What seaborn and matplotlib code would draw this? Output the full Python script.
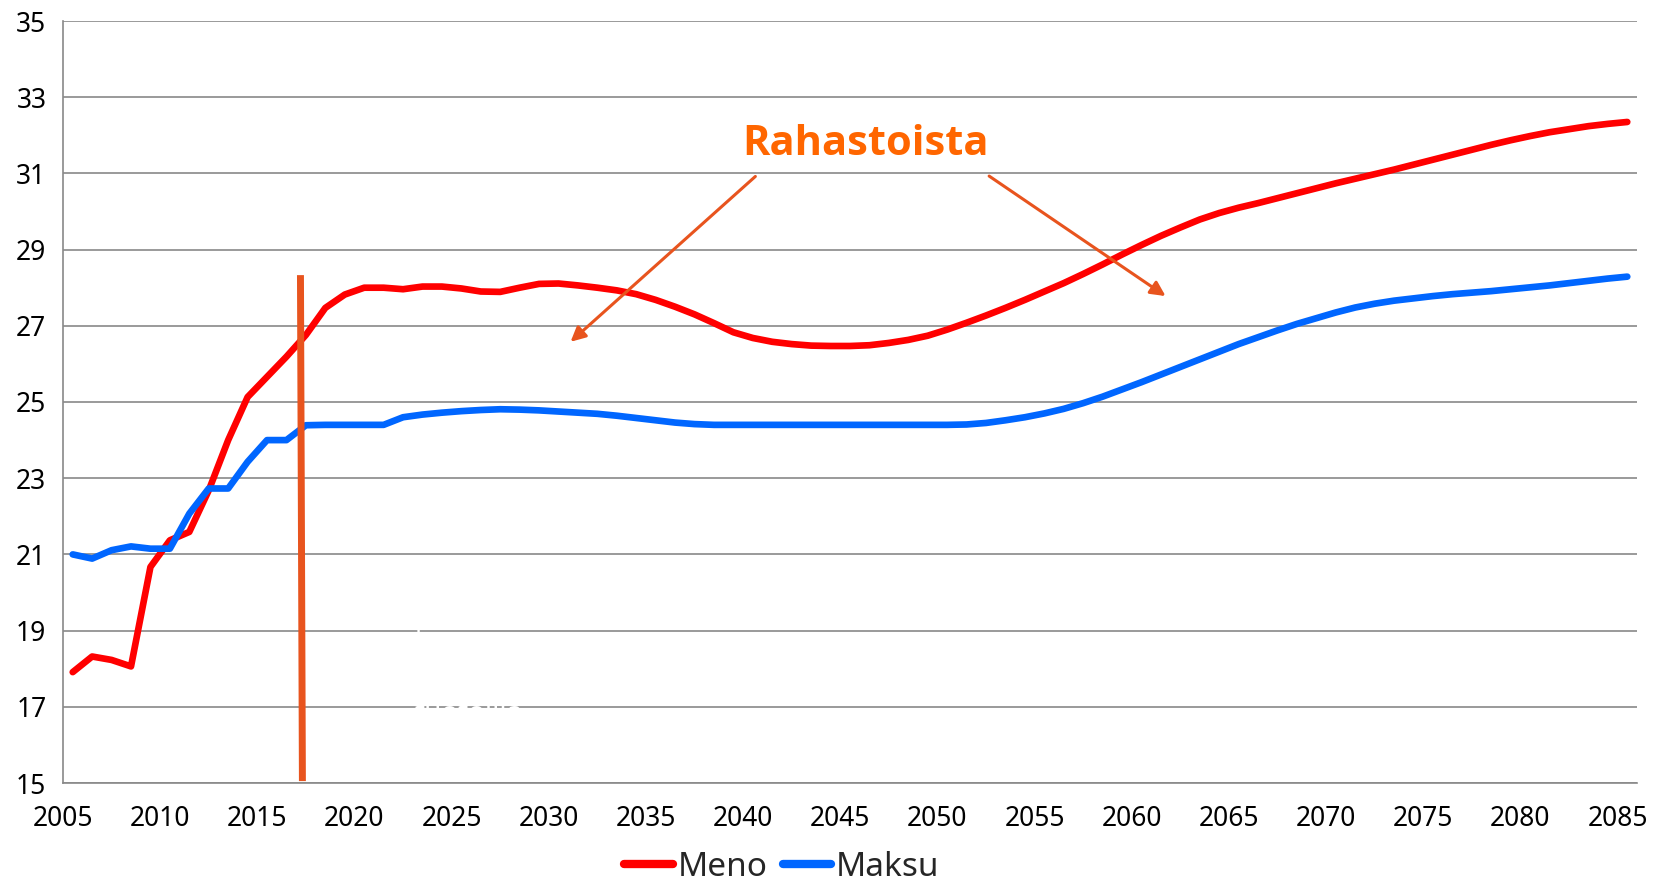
import numpy as np
import pandas as pd
import matplotlib
matplotlib.use("Agg")
import matplotlib.pyplot as plt
from matplotlib.lines import Line2D
import seaborn as sns

# ---------------- data ----------------
years = list(range(2005, 2086))

meno = [17.91, 18.32, 18.23, 18.06, 20.67, 21.37, 21.59, 22.68, 24.00, 25.13,
        25.66, 26.19, 26.76, 27.47, 27.82, 28.00, 28.00, 27.96, 28.03, 28.03,
        27.98, 27.90, 27.89, 28.00, 28.10, 28.11, 28.06, 28.00, 27.93, 27.83,
        27.68, 27.50, 27.30, 27.07, 26.83, 26.68, 26.58, 26.52, 26.48, 26.47,
        26.47, 26.49, 26.55, 26.63, 26.74, 26.90, 27.08, 27.27, 27.47, 27.68,
        27.90, 28.12, 28.36, 28.61, 28.87, 29.12, 29.36, 29.58, 29.79, 29.96,
        30.10, 30.22, 30.35, 30.48, 30.61, 30.74, 30.86, 30.98, 31.10, 31.23,
        31.36, 31.49, 31.62, 31.75, 31.87, 31.98, 32.08, 32.16, 32.24, 32.30,
        32.35]

maksu = [21.00, 20.89, 21.11, 21.21, 21.15, 21.15, 22.07, 22.73, 22.73, 23.43,
         24.00, 24.00, 24.39, 24.40, 24.40, 24.40, 24.40, 24.60, 24.67, 24.72,
         24.76, 24.79, 24.81, 24.80, 24.78, 24.75, 24.72, 24.69, 24.64, 24.58,
         24.52, 24.46, 24.42, 24.40, 24.40, 24.40, 24.40, 24.40, 24.40, 24.40,
         24.40, 24.40, 24.40, 24.40, 24.40, 24.40, 24.41, 24.45, 24.52, 24.60,
         24.70, 24.82, 24.97, 25.14, 25.33, 25.52, 25.72, 25.92, 26.12, 26.32,
         26.52, 26.70, 26.88, 27.05, 27.20, 27.35, 27.48, 27.58, 27.66, 27.72,
         27.78, 27.83, 27.87, 27.91, 27.96, 28.01, 28.06, 28.12, 28.18, 28.24,
         28.29]

series_names = ["Meno", "Maksu"]
series_colors = ["#FF0000", "#0066FF"]
x_ticks = list(range(2005, 2086, 5))
y_ticks = list(range(15, 36, 2))
annotation_text = "Rahastoista"
hidden_text = "Erotus\nkatetaan\nsijoitusten\ntuotoilla"

# ---------------- style ----------------
sns.set_style("white")
plt.rcParams["font.family"] = ["Noto Sans", "DejaVu Sans"]

fig = plt.figure(figsize=(16.75, 8.83), dpi=100)
ax = fig.add_axes([63 / 1675, 1 - 783 / 883, (1637 - 63) / 1675, (783 - 21) / 883])

df = pd.DataFrame({
    "x": [y + 0.5 for y in years] * 2,
    "value": meno + maksu,
    "series": [series_names[0]] * len(years) + [series_names[1]] * len(years),
})

sns.lineplot(data=df, x="x", y="value", hue="series", hue_order=series_names,
             palette=series_colors, linewidth=4.8, legend=False, ax=ax,
             sort=False, zorder=4)
for ln in ax.get_lines():
    ln.set_solid_capstyle("round")
    ln.set_solid_joinstyle("round")

grid_col = "#898989"
ax.set_xlim(2005, 2086)
ax.set_ylim(15, 35)
ax.set_xticks(x_ticks)
ax.set_yticks(y_ticks)
ax.set_xticklabels([str(t) for t in x_ticks])
ax.set_yticklabels([str(t) for t in y_ticks])
ax.yaxis.grid(True, color=grid_col, linewidth=1.2)
ax.xaxis.grid(False)
ax.set_axisbelow(True)
for s in ["top", "right"]:
    ax.spines[s].set_visible(False)
for s in ["left", "bottom"]:
    ax.spines[s].set_color(grid_col)
    ax.spines[s].set_linewidth(1.2)
ax.tick_params(axis="both", colors=grid_col, labelcolor="black", labelsize=19,
               length=6, width=1.2, direction="out")
ax.tick_params(axis="y", pad=6)
ax.tick_params(axis="x", pad=10)
ax.set_xlabel("")
ax.set_ylabel("")

# vertical marker line
ax.plot([2017.22, 2017.32], [28.33, 15.05], color="#E8541E", linewidth=5,
        solid_capstyle="butt", zorder=5)

# annotation text and arrows
ax.text(2046.3, 31.48, annotation_text, color="#FF6600", fontsize=30,
        fontweight="bold", family=["Open Sans", "DejaVu Sans"],
        ha="center", va="baseline", zorder=6)
arrow_kw = dict(arrowstyle="-|>", color="#E8541E", lw=2.2, mutation_scale=22,
                shrinkA=0, shrinkB=0)
ax.annotate("", xy=(2031.12, 26.58), xytext=(2040.63, 30.92),
            arrowprops=arrow_kw, zorder=6)
ax.annotate("", xy=(2061.74, 27.78), xytext=(2052.66, 30.93),
            arrowprops=arrow_kw, zorder=6)

# (white, practically invisible) text box
ax.text(2023.1, 19.95, hidden_text, color="white", fontsize=20,
        fontweight="bold", ha="left", va="top", linespacing=1.35, zorder=3,
        fontstretch="condensed")

# legend
handles = [Line2D([0], [0], color=c, lw=6, solid_capstyle="round") for c in series_colors]
fig.legend(handles, series_names, loc="center", bbox_to_anchor=(782 / 1675, 1 - 867 / 883),
           ncol=2, frameon=False, fontsize=24, handlelength=1.45, handletextpad=0.15,
           columnspacing=0.45, borderpad=0, borderaxespad=0)

fig.savefig("out.png", dpi=100)
